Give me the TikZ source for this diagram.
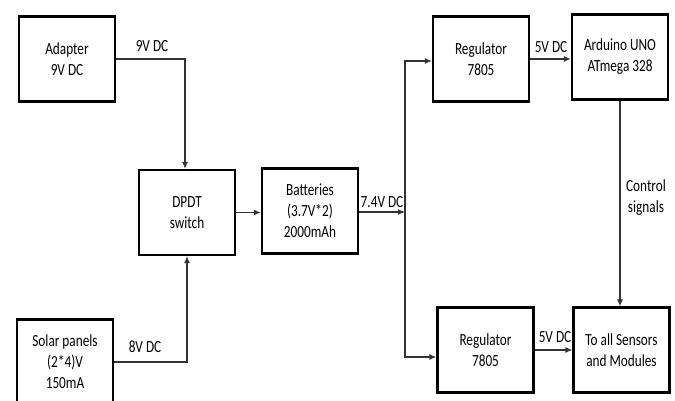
\documentclass[tikz,border=0pt]{standalone}
\usepackage{fontspec}
\setmainfont[FakeStretch=0.78]{Carlito}
\usetikzlibrary{calc}
\usetikzlibrary{arrows.meta}
\tikzset{>={Latex[length=7pt,width=6pt]}}
\tikzset{block/.style = {shape=rectangle,draw,line width=2.4pt,minimum width=96pt,minimum height=85pt,align=center,font=\fontsize{17}{21}\selectfont}}
\tikzset{wire/.style = {->,line width=1.1pt,black!80}}
\tikzset{tag/.style = {font=\fontsize{17}{21}\selectfont,align=center,inner sep=0pt}}

\begin{document}
\begin{tikzpicture}[x=1pt,y=-1pt]
                \clip (0,0) rectangle (675,401);
                \node[block] (adapter) at (67,59) {Adapter\\9V DC};
                \node[block] (dpdt) at (187,212.5) {DPDT\\switch};
                \node[block] (batt) at (310,211) {Batteries\\(3.7V*2)\\2000mAh};
                \node[block] (solar) at (65,362) {Solar panels\\(2*4)V\\150mA};
                \node[block] (reg1) at (481,59) {Regulator\\7805};
                \node[block] (arduino) at (620,57) {Arduino UNO\\ATmega 328};
                \node[block] (reg2) at (485.5,350) {Regulator\\7805};
                \node[block] (sensors) at (621.5,350) {To all Sensors\\and Modules};
                \coordinate (split) at (405,212);

                \draw[wire] (adapter.east) -| ([xshift=-2pt]dpdt.north);
                \draw[wire] (solar.east) -| (dpdt.south);
                \draw[wire] (dpdt.east) -- (dpdt.east -| batt.west);
                \draw[wire] (batt.east |- split) -- (split);
                \draw[wire] (split) |- ([yshift=-2pt]reg1.west);
                \draw[wire] (split) |- ([yshift=-7pt]reg2.west);
                \draw[wire] (reg1.east) -- (reg1.east -| arduino.west);
                \draw[wire] (reg2.east) -- (reg2.east -| sensors.west);
                \draw[wire] (arduino.south) -- (arduino.south |- sensors.north);

                \node[tag] (l9v) at (152,46) {9V DC};
                \node[tag] (l8v) at (145,347) {8V DC};
                \node[tag] (l74v) at (382,202) {7.4V DC};
                \node[tag] (l5va) at (551,47) {5V DC};
                \node[tag] (l5vb) at (555,337) {5V DC};
                \node[tag] (lctrl) at (646,198) {Control\\signals};
            \end{tikzpicture}
\end{document}
